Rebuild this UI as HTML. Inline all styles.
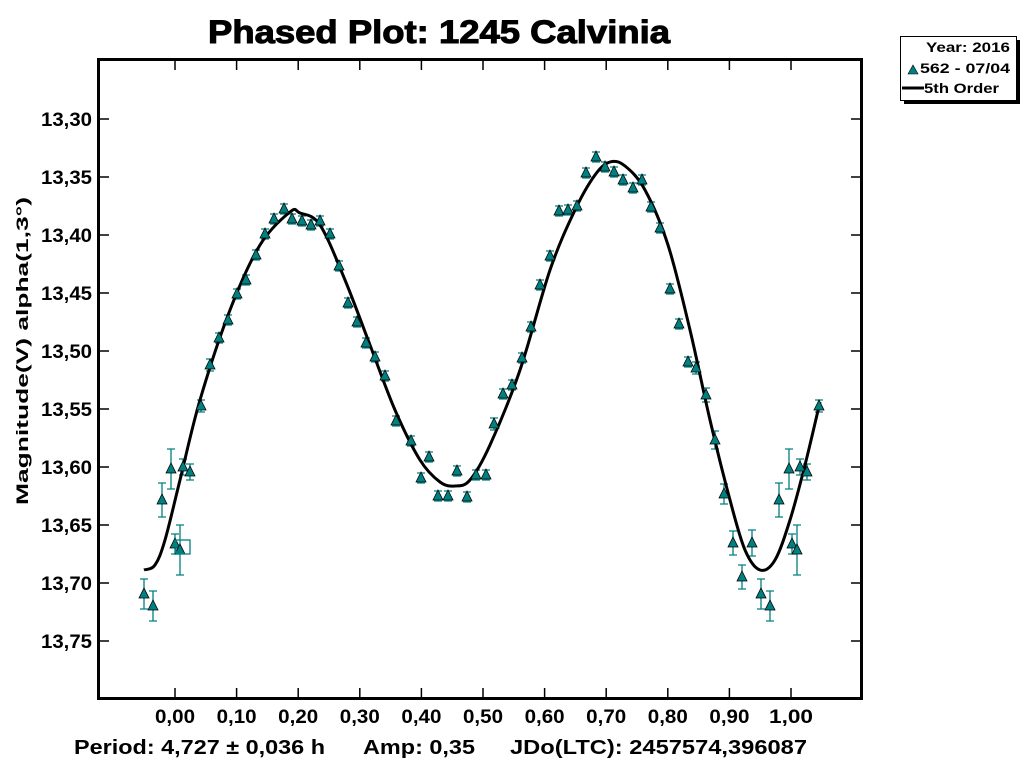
<!DOCTYPE html>
<html><head><meta charset="utf-8"><style>
body{margin:0;background:#fff;width:1024px;height:768px;overflow:hidden;font-family:"Liberation Sans",Arial,sans-serif}
</style></head><body>
<svg id="s" width="1024" height="768" xmlns="http://www.w3.org/2000/svg" font-family="Liberation Sans, Arial, sans-serif" font-weight="bold">
<text x="208" y="43" font-size="32" textLength="462" lengthAdjust="spacingAndGlyphs" stroke="#000" stroke-width="1">Phased Plot: 1245 Calvinia</text>
<rect x="98.5" y="59.5" width="763" height="639" fill="none" stroke="#000" stroke-width="3"/>
<g id="ax" stroke="#000" stroke-width="1.5"></g>
<g id="lbl" font-size="19"></g>
<text transform="translate(28,351) rotate(-90)" font-size="17" text-anchor="middle" textLength="308" lengthAdjust="spacingAndGlyphs">Magnitude(V) alpha(1,3°)</text>
<text x="74" y="754" font-size="20" textLength="251" lengthAdjust="spacingAndGlyphs">Period: 4,727 ± 0,036 h</text>
<text x="363" y="754" font-size="20" textLength="112" lengthAdjust="spacingAndGlyphs">Amp: 0,35</text>
<text x="510" y="754" font-size="20" textLength="297" lengthAdjust="spacingAndGlyphs">JDo(LTC): 2457574,396087</text>
<g id="eb" stroke="#008080" stroke-width="1.3" fill="none"></g>
<path id="curve" fill="none" stroke="#000" stroke-width="3"/>
<g id="pts" fill="#008080" stroke="#000" stroke-width="0.8"></g>
<rect x="176" y="540" width="14" height="14" fill="none" stroke="#008080" stroke-width="1.3"/>
<rect x="904" y="40" width="116" height="64" fill="#000"/>
<rect x="900.5" y="36.5" width="116" height="64" fill="#fff" stroke="#000"/>
<text x="1010" y="52" font-size="14" text-anchor="end" textLength="84" lengthAdjust="spacingAndGlyphs">Year: 2016</text>
<polygon points="908,74 913,65 918,74" fill="#008080" stroke="#000" stroke-width="0.6"/>
<text x="1010" y="73" font-size="14" text-anchor="end" textLength="90" lengthAdjust="spacingAndGlyphs">562 - 07/04</text>
<line x1="902" y1="88" x2="924" y2="88" stroke="#000" stroke-width="3"/>
<text x="924" y="93" font-size="14" textLength="75" lengthAdjust="spacingAndGlyphs">5th Order</text>
</svg>
<script>
var NS="http://www.w3.org/2000/svg";
function el(p,t,a,txt){var e=document.createElementNS(NS,t);for(var k in a)e.setAttribute(k,a[k]);if(txt)e.textContent=txt;document.getElementById(p).appendChild(e);return e;}
for(var i=0;i<10;i++){var y=119+58*i;if(y>690)break;el("ax","line",{x1:99,y1:y,x2:109,y2:y});el("ax","line",{x1:851,y1:y,x2:861,y2:y});
el("lbl","text",{x:92,y:y+7,"text-anchor":"end",textLength:51,lengthAdjust:"spacingAndGlyphs"},"13,"+(30+5*i));}
for(var i=0;i<=10;i++){var x=175+61.6*i;el("ax","line",{x1:x,y1:698,x2:x,y2:688});el("ax","line",{x1:x,y1:60,x2:x,y2:70});
el("lbl","text",{x:x,y:723,"text-anchor":"middle",textLength:i==10?44:40,lengthAdjust:"spacingAndGlyphs"},(i/10).toFixed(2).replace(".",","));}
var P=[[144,592,15],[153,604,15],[162,498,17],[171,467,20],[175,542,10],[180,548,25],[183,465,8],[190,470,8],[201,404,6],[210,363,6],[219,336,5],[228,318,5],[237,292,5],[246,278,5],[256,253,5],[265,232,5],[274,217,5],[284,207,5],[292,217,5],[302,219,5],[311,223,5],[320,219,5],[330,232,5],[339,264,5],[348,301,5],[357,320,5],[366,341,5],[375,355,5],[385,374,5],[396,419,5],[411,439,5],[421,476,5],[429,455,5],[438,494,5],[448,494,5],[457,469,5],[467,495,5],[476,473,5],[486,473,5],[494,422,6],[503,392,5],[512,383,5],[522,356,5],[531,325,5],[540,283,5],[550,254,5],[559,209,5],[568,208,5],[577,204,5],[586,171,5],[596,155,5],[605,165,5],[614,170,5],[623,178,5],[633,186,5],[642,178,5],[651,205,5],[660,226,5],[670,287,5],[679,322,5],[688,360,5],[696,366,6],[706,393,7],[715,438,9],[724,492,10],[733,541,12],[742,575,12],[752,541,13],[761,592,15],[770,604,15],[779,498,17],[789,467,20],[792,542,10],[797,548,25],[800,465,8],[807,470,8],[819,404,6]];
P.forEach(function(p){var x=p[0],y=p[1]+2,e=p[2];
el("eb","path",{d:"M"+x+","+(y-e)+"V"+(y+e)+"M"+(x-4)+","+(y-e)+"h8M"+(x-4)+","+(y+e)+"h8"});
el("pts","polygon",{points:(x-5)+","+(y+4)+" "+x+","+(y-6)+" "+(x+5)+","+(y+4)});});
var C=[[144,570],[155,565],[165,540],[180,480],[200,400],[230,310],[260,245],[290,212],[300,213],[320,225],[345,280],[370,345],[395,410],[420,460],[440,482],[455,486],[470,480],[490,445],[520,370],[550,270],[575,210],[595,175],[610,162],[625,166],[645,190],[668,245],[690,330],[710,420],[730,500],[745,550],[760,570],[775,560],[790,520],[805,465],[820,402]];
var d="M"+C[0][0]+","+C[0][1];
for(var i=0;i<C.length-1;i++){var p0=C[Math.max(0,i-1)],p1=C[i],p2=C[i+1],p3=C[Math.min(C.length-1,i+2)];
d+="C"+(p1[0]+(p2[0]-p0[0])/6)+","+(p1[1]+(p2[1]-p0[1])/6)+" "+(p2[0]-(p3[0]-p1[0])/6)+","+(p2[1]-(p3[1]-p1[1])/6)+" "+p2[0]+","+p2[1];}
document.getElementById("curve").setAttribute("d",d);
</script>
</body></html>
